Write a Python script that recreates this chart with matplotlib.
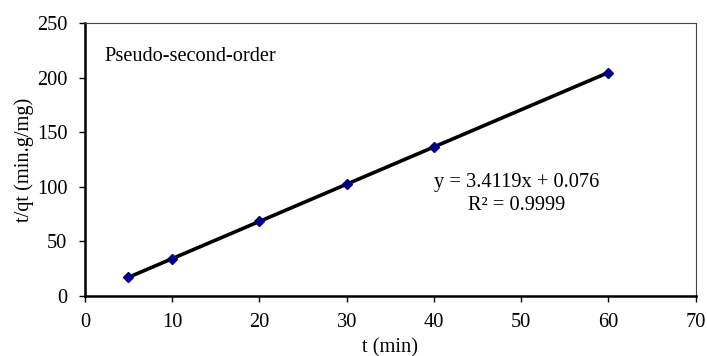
import matplotlib
matplotlib.use("Agg")
import matplotlib.pyplot as plt
import numpy as np

plt.rcParams['font.family'] = ['Liberation Serif', 'DejaVu Serif']

t = [5, 10, 20, 30, 40, 60]
tq = [17.1, 34.2, 68.3, 102.5, 136.9, 204.2]
slope, intercept = 3.4119, 0.076
xticks = [0, 10, 20, 30, 40, 50, 60, 70]
yticks = [0, 50, 100, 150, 200, 250]

FS = 14.7
fig = plt.figure(figsize=(7.07, 3.56), dpi=100)
ax = fig.add_axes([0.120, 0.1685, 0.864, 0.7665])

xfit = np.array([t[0], t[-1]])
ax.plot(xfit, slope * xfit + intercept, color='black', lw=2.6, zorder=2)
ax.plot(t, tq, linestyle='none', marker='D', markersize=5, color='#000080', zorder=3)

ax.set_xlim(0, 70)
ax.set_ylim(0, 250)
ax.set_xticks(xticks)
ax.set_yticks(yticks)
ax.tick_params(labelsize=FS, direction='out', length=4.5, width=1)
ax.tick_params(axis='x', pad=8)
ax.tick_params(axis='y', pad=8)
for s in ['left', 'bottom']:
    ax.spines[s].set_linewidth(1.8)
    ax.spines[s].set_color('black')
for s in ['top', 'right']:
    ax.spines[s].set_linewidth(0.8)
    ax.spines[s].set_color('#444444')

ax.set_xlabel('t (min)', fontsize=FS, labelpad=4)
ax.set_ylabel('t/qt (min.g/mg)', fontsize=FS, labelpad=2)

ax.text(2.3, 219, 'Pseudo-second-order', fontsize=FS, ha='left', va='center')
ax.text(49.5, 104, 'y = 3.4119x + 0.076', fontsize=FS, ha='center', va='center')
ax.text(49.5, 83, 'R² = 0.9999', fontsize=FS, ha='center', va='center')

fig.savefig('out.png', dpi=100)
